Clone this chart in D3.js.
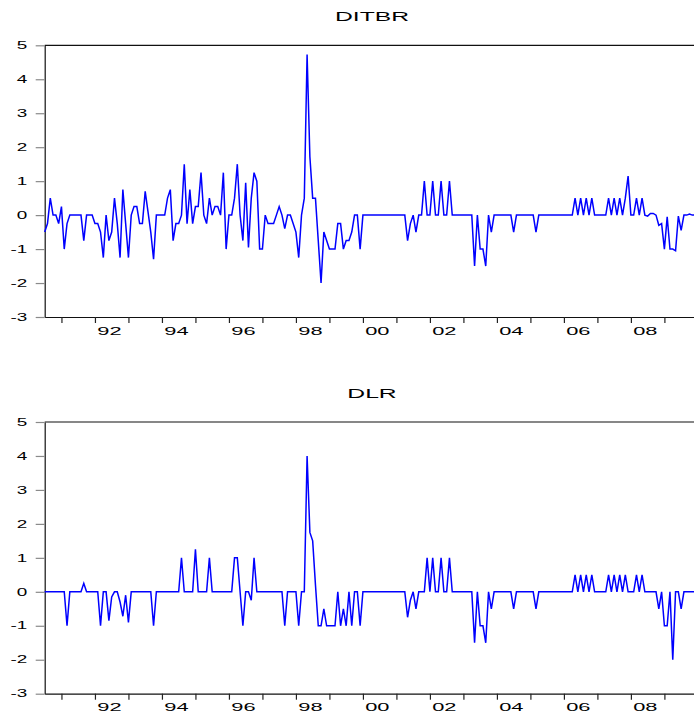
<!DOCTYPE html>
<html><head><meta charset="utf-8">
<script src="https://cdn.jsdelivr.net/npm/d3@7"></script>
<style>
body{margin:0;background:#fff}
svg{display:block}
text{font-family:"Liberation Sans",Arial,sans-serif;fill:#000}
</style>
</head><body>
<svg id="c" width="694" height="713"></svg>
<script>
// Monthly observations, first one 1990M07, last 2009M12
const startYear = 1990, startMonth = 7;

const ditbr = [
  -0.5,-0.25,0.5,0,0,-0.25,                                        // 1990 M07-M12
  0.25,-1,-0.25,0,0,0,0,0,-0.75,0,0,0,                             // 1991
  -0.25,-0.25,-0.5,-1.25,0,-0.75,-0.5,0.5,-0.25,-1.25,0.75,-0.25,  // 1992
  -1.25,0,0.25,0.25,-0.25,-0.25,0.7,0.1,-0.5,-1.3,0,0,             // 1993
  0,0,0.5,0.75,-0.75,-0.25,-0.25,0,1.5,-0.25,0.75,-0.25,           // 1994
  0.25,0.25,1.25,0,-0.25,0.5,0,0.25,0.25,0,1.25,-1,                // 1995
  0,0,0.5,1.5,0,-0.75,0.95,-0.95,0.5,1.25,1,-1,                    // 1996
  -1,0,-0.25,-0.25,-0.25,0,0.25,0,-0.4,0,0,-0.25,                  // 1997
  -0.5,-1.25,0,0.5,4.73,1.72,0.5,0.5,-0.75,-2,-0.5,-0.75,          // 1998
  -1,-1,-1,-0.25,-0.25,-1,-0.75,-0.75,-0.5,0,0,-1,                 // 1999
  0,0,0,0,0,0,0,0,0,0,0,0,                                         // 2000
  0,0,0,0,-0.75,-0.25,0,-0.5,0,0,1,0,                              // 2001
  0,1,0,0,1,0,0,1,0,0,0,0,                                         // 2002
  0,0,0,0,-1.5,0,-1,-1,-1.5,0,-0.5,0,                              // 2003
  0,0,0,0,0,0,-0.5,0,0,0,0,0,                                      // 2004
  0,0,-0.5,0,0,0,0,0,0,0,0,0,                                      // 2005
  0,0,0,0,0.5,0,0.5,0,0.5,0,0.5,0,                                 // 2006
  0,0,0,0,0.5,0,0.5,0,0.5,0,0.5,1.15,                              // 2007
  0,0,0.5,0,0.5,0,-0.03,0.05,0.05,0,-0.3,-0.25,                    // 2008
  -1,-0.05,-1,-1,-1.05,-0.03,-0.45,0,0,0.03,0,0                    // 2009
];

const dlr = [
  0,0,0,0,0,0,                                     // 1990 M07-M12
  0,0,-1,0,0,0,0,0,0.25,0,0,0,                     // 1991
  0,0,-1,0,0,-0.85,-0.15,0,0,-0.3,-0.72,-0.1,      // 1992
  -0.9,0,0,0,0,0,0,0,0,-1,0,0,                     // 1993
  0,0,0,0,0,0,0,1,0,0,0,0,                         // 1994
  1.25,0,0,0,0,1,0,0,0,0,0,0,                      // 1995
  0,0,1,1,0,-1,0,0,-0.25,1,0,0,                    // 1996
  0,0,0,0,0,0,0,0,-1,0,0,0,                        // 1997
  0,-1,0,0,4,1.75,1.5,0.2,-1,-1,-0.5,-1,           // 1998
  -1,-1,-1,0,-1,-0.5,-1,0,-1,0,0,-1,               // 1999
  0,0,0,0,0,0,0,0,0,0,0,0,                         // 2000
  0,0,0,0,-0.75,-0.25,0,-0.5,0,0,0,1,              // 2001
  0,1,0,0,1,0,0,1,0,0,0,0,                         // 2002
  0,0,0,0,-1.5,0,-1,-1,-1.5,0,-0.5,0,              // 2003
  0,0,0,0,0,0,-0.5,0,0,0,0,0,                      // 2004
  0,0,-0.5,0,0,0,0,0,0,0,0,0,                      // 2005
  0,0,0,0,0.5,0,0.5,0,0.5,0,0.5,0,                 // 2006
  0,0,0,0,0.5,0,0.5,0,0.5,0,0.5,0,                 // 2007
  0,0,0.5,0,0.5,0,0,0,0,0,-0.5,0,                  // 2008
  -1,-1,0,-2,0,0,-0.5,0,0,0,0,0                    // 2009
];

const seriesNames = ["DITBR", "DLR"];
const yTicks = [-3, -2, -1, 0, 1, 2, 3, 4, 5];
const yearTicks = [1991,1992,1993,1994,1995,1996,1997,1998,1999,2000,2001,2002,2003,2004,2005,2006,2007,2008,2009];
const yearLabels = {1992:"92",1994:"94",1996:"96",1998:"98",2000:"00",2002:"02",2004:"04",2006:"06",2008:"08"};

const svg = d3.select("#c");
const tOf = i => startYear + (startMonth - 1) / 12 + i / 12;
const nObs = ditbr.length;
const x = d3.scaleLinear().domain([tOf(0), tOf(nObs - 1)]).range([44.7, 695.1]);

const panels = [
  {name: seriesNames[0], data: ditbr, top: 45.3, bottom: 317, titleY: 20.8},
  {name: seriesNames[1], data: dlr,   top: 422,  bottom: 693.7, titleY: 398.3}
];

const SX = 1.9;
const labelShift = x(1991 + 5/12) - x(1991);

panels.forEach(p => {
  const y = d3.scaleLinear().domain([-3, 5]).range([p.bottom, p.top]);
  const g = svg.append("g");

  g.append("text")
    .attr("transform", `translate(372,${p.titleY}) scale(${SX},1)`)
    .attr("text-anchor", "middle")
    .attr("font-size", 13)
    .text(p.name);

  g.append("line")
    .attr("x1", x.range()[0]).attr("x2", 694)
    .attr("y1", y(5)).attr("y2", y(5))
    .attr("stroke", "#111").attr("stroke-width", 1.2);

  const ya = g.append("g").attr("transform", `translate(${x.range()[0]},0)`)
    .call(d3.axisLeft(y).tickValues(yTicks).tickSize(9).tickSizeOuter(0).tickFormat(d => String(d)));
  ya.select(".domain").attr("stroke", "#111").attr("stroke-width", 1.2);
  ya.selectAll(".tick line").attr("stroke", "#8a8a8a").attr("stroke-width", 1.2);
  ya.selectAll(".tick text")
    .attr("x", 0).attr("dy", null)
    .attr("transform", `translate(-17.5,3.2) scale(1.8,1)`)
    .attr("font-size", 10.5).attr("fill", "#000")
    .attr("text-anchor", "end");
  ya.attr("font-family", null);

  const xa = g.append("g").attr("transform", `translate(0,${y(-3)})`)
    .call(d3.axisBottom(x).tickValues(yearTicks).tickSize(6).tickSizeOuter(0)
      .tickFormat(d => yearLabels[d] || ""));
  xa.select(".domain").attr("stroke", "#111").attr("stroke-width", 1.2);
  xa.selectAll(".tick line").attr("stroke", "#222").attr("stroke-width", 1.2);
  xa.selectAll(".tick text")
    .attr("y", 0).attr("dy", null)
    .attr("transform", `translate(${labelShift},17.5) scale(${SX},1)`)
    .attr("font-size", 11.5).attr("fill", "#000")
    .attr("text-anchor", "middle");
  xa.attr("font-family", null);

  const line = d3.line().x((d, i) => x(tOf(i))).y(d => y(d));
  g.append("path").datum(p.data)
    .attr("d", line)
    .attr("fill", "none")
    .attr("stroke", "#0000ff")
    .attr("stroke-width", 1.5)
    .attr("stroke-linejoin", "miter");
});
</script>
</body></html>
